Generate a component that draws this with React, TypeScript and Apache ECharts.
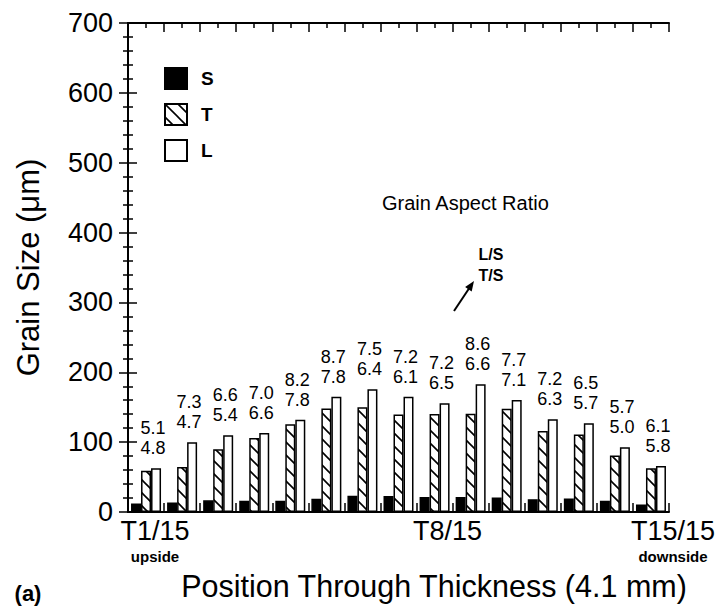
import React, { useEffect, useRef } from 'react';
import * as echarts from 'echarts';

const categories = ['T1/15', 'T2/15', 'T3/15', 'T4/15', 'T5/15', 'T6/15', 'T7/15', 'T8/15', 'T9/15', 'T10/15', 'T11/15', 'T12/15', 'T13/15', 'T14/15', 'T15/15'];
const sizeS = [12.3, 13.7, 16.7, 16.1, 16.1, 19.0, 23.4, 22.9, 21.6, 21.3, 20.8, 18.4, 19.5, 16.2, 10.8];
const sizeT = [59, 64.4, 90, 106, 125.6, 148, 150, 139.7, 140.4, 140.5, 147.7, 116, 111, 81, 62.6];
const sizeL = [62.5, 100, 110, 113, 132, 165, 175.6, 165, 155.6, 183, 160.3, 132.6, 127, 92.6, 65.8];
const ratioLS = ['5.1', '7.3', '6.6', '7.0', '8.2', '8.7', '7.5', '7.2', '7.2', '8.6', '7.7', '7.2', '6.5', '5.7', '6.1'];
const ratioTS = ['4.8', '4.7', '5.4', '6.6', '7.8', '7.8', '6.4', '6.1', '6.5', '6.6', '7.1', '6.3', '5.7', '5.0', '5.8'];
const seriesNames = ['S', 'T', 'L'];
const tickLabelIndex = [0, 7, 14];
const tickLabelMain = ['T1/15', 'T8/15', 'T15/15'];
const tickLabelSub = ['upside', '', 'downside'];
const yMin = 0;
const yMax = 700;
const yInterval = 100;

const FONT = '"Liberation Sans", Arial, Helvetica, sans-serif';

function makeHatch() {
  const c = document.createElement('canvas');
  c.width = 13;
  c.height = 13;
  const ctx = c.getContext('2d')!;
  ctx.fillStyle = '#fff';
  ctx.fillRect(0, 0, 13, 13);
  ctx.strokeStyle = '#000';
  ctx.lineWidth = 1.6;
  ctx.beginPath();
  ctx.moveTo(-2, -2); ctx.lineTo(15, 15);
  ctx.moveTo(-2, 11); ctx.lineTo(2, 15);
  ctx.moveTo(11, -2); ctx.lineTo(15, 2);
  ctx.stroke();
  return c;
}

export default function App() {
  const ref = useRef<HTMLDivElement>(null);
  useEffect(() => {
    if (!ref.current) return;
    const chart = echarts.init(ref.current, null, { renderer: 'svg' });
    const hatch = makeHatch();
    const shifts = [9, 49, 22];
    const rich: any = {};
    tickLabelIndex.forEach((_, k) => {
      rich['m' + k] = { fontFamily: FONT, fontSize: 27, lineHeight: 30, color: '#000', padding: [0, 0, 0, shifts[k] * 2] };
      rich['s' + k] = { fontFamily: FONT, fontSize: 15, fontWeight: 'bold', lineHeight: 20, color: '#000', padding: [0, 0, 0, shifts[k] * 2] };
    });
    const frameAxis = (position: string) => ({
      type: 'value',
      position,
      min: 0,
      max: categories.length,
      interval: 1,
      axisLine: { show: true, onZero: false, lineStyle: { color: '#000', width: 2 } },
      axisTick: { show: true, inside: true, length: 9, lineStyle: { color: '#000', width: 1.5 } },
      minorTick: { show: true, splitNumber: 2, length: 5, lineStyle: { color: '#000', width: 1.5 } },
      axisLabel: { show: false },
      splitLine: { show: false },
      minorSplitLine: { show: false },
    });
    const option: any = {
      animation: false,
      backgroundColor: '#fff',
      grid: { left: 128, right: 51, top: 23, bottom: 99 },
      legend: {
        data: seriesNames,
        orient: 'vertical',
        left: 159,
        top: 62,
        itemWidth: 22,
        itemHeight: 21,
        itemGap: 13,
        icon: 'rect',
        textStyle: { fontFamily: FONT, fontSize: 19, lineHeight: 21, fontWeight: 'bold', color: '#000', padding: [0, 0, 0, 9] },
      },
      xAxis: [
        {
          type: 'category',
          data: categories,
          position: 'bottom',
          axisLine: { show: false },
          axisTick: { show: false },
          axisLabel: {
            interval: 0,
            margin: 4,
            formatter: (_v: string, idx: number) => {
              const k = tickLabelIndex.indexOf(idx);
              if (k < 0) return '';
              const sub = tickLabelSub[k];
              return '{m' + k + '|' + tickLabelMain[k] + '}' + (sub ? '\n{s' + k + '|' + sub + '}' : '');
            },
            rich,
          },
        },
        frameAxis('bottom'),
        frameAxis('top'),
      ],
      yAxis: [
        {
          type: 'value',
          position: 'left',
          min: yMin,
          max: yMax,
          interval: yInterval,
          name: 'Grain Size (\u03bcm)',
          nameLocation: 'middle',
          nameGap: 84,
          nameTextStyle: { fontFamily: FONT, fontSize: 31, color: '#000', padding: [0, 0, 0, 0] },
          axisLine: { show: true, lineStyle: { color: '#000', width: 2 } },
          axisTick: { show: true, inside: true, length: 9, lineStyle: { color: '#000', width: 1.5 } },
          minorTick: { show: true, splitNumber: 5, length: 5, lineStyle: { color: '#000', width: 1.5 } },
          axisLabel: { fontFamily: FONT, fontSize: 27, color: '#000', margin: 15 },
          splitLine: { show: false },
        },
        {
          type: 'value',
          position: 'right',
          min: yMin,
          max: yMax,
          interval: yInterval,
          axisLine: { show: true, lineStyle: { color: '#000', width: 2 } },
          axisTick: { show: true, inside: true, length: 9, lineStyle: { color: '#000', width: 1.5 } },
          minorTick: { show: true, splitNumber: 5, length: 5, lineStyle: { color: '#000', width: 1.5 } },
          axisLabel: { show: false },
          splitLine: { show: false },
        },
      ],
      series: [
        {
          name: 'S',
          type: 'bar',
          data: sizeS,
          barWidth: 10,
          barGap: '0%',
          itemStyle: { color: '#000', borderColor: '#000', borderWidth: 1.5 },
        },
        {
          name: 'T',
          type: 'bar',
          data: sizeT,
          barWidth: 10,
          barGap: '0%',
          itemStyle: { color: { image: hatch, repeat: 'repeat' }, borderColor: '#000', borderWidth: 1.5 },
        },
        {
          name: 'L',
          type: 'bar',
          data: sizeL,
          barWidth: 10,
          barGap: '0%',
          itemStyle: { color: '#fff', borderColor: '#000', borderWidth: 1.5 },
          label: {
            show: true,
            position: 'top',
            distance: 10,
            offset: [-3, 0],
            fontFamily: FONT,
            fontSize: 18,
            lineHeight: 20,
            color: '#000',
            formatter: (p: any) => ratioLS[p.dataIndex] + '\n' + ratioTS[p.dataIndex],
          },
        },
      ],
      graphic: [
        { type: 'text', x: 382, y: 203, style: { text: 'Grain Aspect Ratio', font: '20px ' + FONT, fill: '#000', verticalAlign: 'middle' } },
        { type: 'text', x: 491, y: 254, style: { text: 'L/S', font: 'bold 16px ' + FONT, fill: '#000', align: 'center', verticalAlign: 'middle' } },
        { type: 'text', x: 491, y: 275, style: { text: 'T/S', font: 'bold 16px ' + FONT, fill: '#000', align: 'center', verticalAlign: 'middle' } },
        { type: 'line', shape: { x1: 454, y1: 311, x2: 470, y2: 287 }, style: { stroke: '#000', lineWidth: 2 } },
        { type: 'polygon', shape: { points: [[474, 281], [471.7, 291.5], [465.1, 287.1]] }, style: { fill: '#000' } },
        { type: 'text', x: 434, y: 586, style: { text: 'Position Through Thickness (4.1 mm)', font: '30.5px ' + FONT, fill: '#000', align: 'center', verticalAlign: 'middle' } },
        { type: 'text', x: 28, y: 593, style: { text: '(a)', font: 'bold 22px ' + FONT, fill: '#000', align: 'center', verticalAlign: 'middle' } },
      ],
    };
    chart.setOption(option);
    return () => chart.dispose();
  }, []);
  return <div ref={ref} style={{ position: 'absolute', left: 0, top: 0, width: 720, height: 611 }} />;
}
